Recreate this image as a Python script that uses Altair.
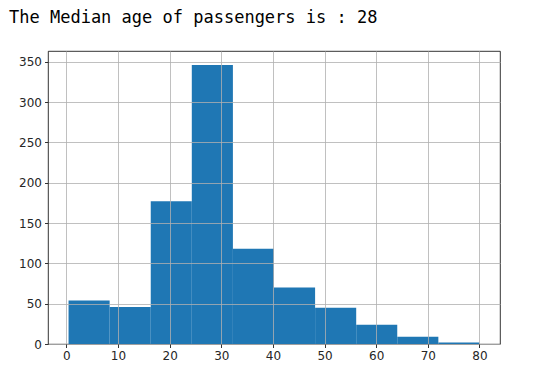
import altair as alt
import pandas as pd

bin_start = [0.42, 8.38, 16.34, 24.29, 32.25, 40.21, 48.17, 56.13, 64.08, 72.04]
bin_end = [8.38, 16.34, 24.29, 32.25, 40.21, 48.17, 56.13, 64.08, 72.04, 80.0]
counts = [54, 46, 177, 346, 118, 70, 45, 24, 9, 2]
x_ticks = [0, 10, 20, 30, 40, 50, 60, 70, 80]
y_ticks = [0, 50, 100, 150, 200, 250, 300, 350]
title_text = "The Median age of passengers is : 28"

df = pd.DataFrame({"start": bin_start, "end": bin_end, "count": counts})

axis_common = dict(
    grid=True, gridColor="#b0b0b0", gridWidth=0.8,
    domain=False, tickColor="#000000", tickSize=3.5, tickWidth=0.8,
    labelFont="DejaVu Sans", labelFontSize=12, labelColor="#262626",
    labelPadding=3, title=None, zindex=1,
)

bars = alt.Chart(df).mark_rect(color="#1f77b4", stroke=None).encode(
    x=alt.X("start:Q", scale=alt.Scale(domain=[-3.559, 83.979], nice=False, zero=False),
            axis=alt.Axis(values=x_ticks, **axis_common)),
    x2="end:Q",
    y=alt.Y("count:Q", scale=alt.Scale(domain=[0, 363.3], nice=False),
            axis=alt.Axis(values=y_ticks, **axis_common)),
    y2=alt.datum(0),
)

title = alt.Chart(pd.DataFrame({"t": [title_text]})).mark_text(
    align="left", baseline="alphabetic", font="DejaVu Sans Mono", fontSize=17,
    color="#000000", clip=False,
).encode(text="t:N", x=alt.value(-39), y=alt.value(-28))

chart = alt.layer(bars, title).properties(
    width=452, height=293,
    autosize=alt.AutoSizeParams(type="none"),
    padding={"left": 40, "top": 43, "right": 36, "bottom": 21},
).configure_view(stroke="#000000", strokeWidth=0.8)

chart.save("out.html", embed_options={"renderer": "svg", "actions": False})
